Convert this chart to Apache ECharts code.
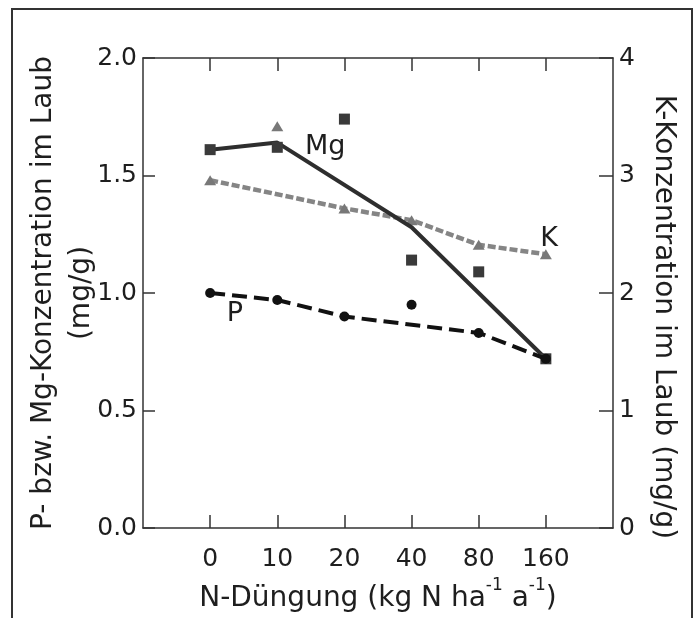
<!DOCTYPE html>
<html>
<head>
<meta charset="utf-8">
<script src="https://cdn.jsdelivr.net/npm/echarts@6/dist/echarts.min.js"></script>
<style>
html,body{margin:0;padding:0;background:#fff;}
#chart{width:700px;height:618px;}
</style>
</head>
<body>
<div id="chart"></div>
<script>
const xLabels = ['0', '10', '20', '40', '80', '160'];
const mgPoints = [1.61, 1.62, 1.74, 1.14, 1.09, 0.72];
const mgLine = [1.61, 1.64, null, 1.28, null, 0.72];
const pPoints = [1.00, 0.97, 0.90, 0.95, 0.83, 0.72];
const pLine = [1.00, 0.97, 0.90, null, 0.83, 0.72];
const kPoints = [2.96, 3.42, 2.72, 2.62, 2.41, 2.33];
const kLine = [2.96, null, 2.72, 2.62, 2.41, 2.33];
const leftTicks = ['0.0', '0.5', '1.0', '1.5', '2.0'];
const rightTicks = ['0', '1', '2', '3', '4'];

const toPairs = arr => arr.map((v, i) => v == null ? null : [i, v]).filter(d => d);

const FONT = 'DejaVu Sans';
const tickIdx = xLabels.map((_, i) => i);
const LINE = {show: true, onZero: false, lineStyle: {color: '#333', width: 1.5}};

const chart = echarts.init(document.getElementById('chart'), null, {renderer: 'canvas'});
chart.setOption({
  animation: false,
  backgroundColor: '#fff',
  grid: {left: 143, right: 87, top: 58, bottom: 89, containLabel: false},
  xAxis: [{
    type: 'value', min: -1, max: 6, interval: 1, position: 'bottom',
    axisLine: LINE,
    axisTick: {show: true, inside: true, length: 13, customValues: tickIdx, lineStyle: {color: '#333', width: 1.5}},
    axisLabel: {show: true, customValues: tickIdx, formatter: v => xLabels[v] || '', fontFamily: FONT, fontSize: 25, color: '#1e1e1e', margin: 19},
    splitLine: {show: false},
    name: '{n|N-Düngung (kg N ha}{s|-1}{n| a}{s|-1}{n|)}',
    nameLocation: 'middle', nameGap: 49, nameMoveOverlap: false,
    nameTextStyle: {fontFamily: FONT, fontSize: 28, color: '#1e1e1e',
      rich: {
        n: {fontFamily: FONT, fontSize: 28, color: '#1e1e1e', lineHeight: 36, verticalAlign: 'bottom'},
        s: {fontFamily: FONT, fontSize: 17, color: '#1e1e1e', lineHeight: 18, verticalAlign: 'top'}
      }}
  }, {
    type: 'value', min: -1, max: 6, interval: 1, position: 'top',
    axisLine: LINE,
    axisTick: {show: true, inside: true, length: 13, customValues: tickIdx, lineStyle: {color: '#333', width: 1.5}},
    axisLabel: {show: false},
    splitLine: {show: false}
  }],
  yAxis: [{
    type: 'value', min: 0, max: 2, interval: 0.5, position: 'left',
    axisLine: LINE,
    axisTick: {show: true, inside: true, length: 12, lineStyle: {color: '#333', width: 1.5}},
    axisLabel: {formatter: (v) => leftTicks[Math.round(v * 2)], fontFamily: FONT, fontSize: 25, color: '#1e1e1e', margin: 6},
    splitLine: {show: false},
    name: 'P- bzw. Mg-Konzentration im Laub\n(mg/g)',
    nameLocation: 'middle', nameGap: 42, nameMoveOverlap: false,
    nameTextStyle: {fontFamily: FONT, fontSize: 28, color: '#1e1e1e', lineHeight: 38}
  }, {
    type: 'value', min: 0, max: 4, interval: 1, position: 'right',
    axisLine: LINE,
    axisTick: {show: true, inside: true, length: 14, lineStyle: {color: '#333', width: 1.5}},
    axisLabel: {formatter: (v) => rightTicks[v], fontFamily: FONT, fontSize: 25, color: '#1e1e1e', margin: 6},
    splitLine: {show: false}
  }],
  graphic: [
    {type: 'rect', shape: {x: 12, y: 9, width: 680, height: 660}, style: {fill: 'none', stroke: '#333', lineWidth: 2}, silent: true},
    {type: 'text', x: 663, y: 317, rotation: -Math.PI / 2,
      style: {text: 'K-Konzentration im Laub (mg/g)', fontFamily: FONT, fontSize: 28, fill: '#1e1e1e', align: 'center', verticalAlign: 'middle'}},
    {type: 'text', x: 305, y: 147, style: {text: 'Mg', fontFamily: FONT, fontSize: 27, fill: '#1e1e1e', align: 'left', verticalAlign: 'middle'}},
    {type: 'text', x: 549, y: 239, style: {text: 'K', fontFamily: FONT, fontSize: 27, fill: '#1e1e1e', align: 'center', verticalAlign: 'middle'}},
    {type: 'text', x: 235, y: 314, style: {text: 'P', fontFamily: FONT, fontSize: 27, fill: '#1e1e1e', align: 'center', verticalAlign: 'middle'}}
  ],
  series: [
    {name: 'K-Linie', type: 'line', yAxisIndex: 1, data: toPairs(kLine), symbol: 'none', connectNulls: true,
      lineStyle: {color: '#858585', width: 4.5, type: [8, 3]}, z: 2},
    {name: 'K', type: 'scatter', yAxisIndex: 1, data: toPairs(kPoints), symbol: 'triangle', symbolSize: [12, 10],
      itemStyle: {color: '#787878', opacity: 1}, z: 3},
    {name: 'Mg-Linie', type: 'line', data: toPairs(mgLine), symbol: 'none', connectNulls: true,
      lineStyle: {color: '#2e2e2e', width: 4}, z: 4},
    {name: 'Mg', type: 'scatter', data: toPairs(mgPoints), symbol: 'rect', symbolSize: 11,
      itemStyle: {color: '#3a3a3a', opacity: 1}, z: 5},
    {name: 'P-Linie', type: 'line', data: toPairs(pLine), symbol: 'none', connectNulls: true,
      lineStyle: {color: '#111', width: 4, type: [15, 7]}, z: 6},
    {name: 'P', type: 'scatter', data: toPairs(pPoints), symbol: 'circle', symbolSize: 10,
      itemStyle: {color: '#111', opacity: 1}, z: 7}
  ]
});
</script>
</body>
</html>
